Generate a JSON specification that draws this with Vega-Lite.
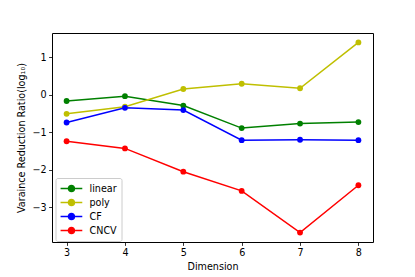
{
  "$schema": "https://vega.github.io/schema/vega-lite/v6.json",
  "width": 321,
  "height": 209,
  "autosize": "none",
  "padding": {"left": 52, "top": 33, "right": 42, "bottom": 35},
  "background": "white",
  "config": {
    "font": "DejaVu Sans",
    "view": {"stroke": "#000000", "strokeWidth": 1},
    "axis": {
      "domain": false,
      "grid": false,
      "tickColor": "#000000",
      "tickSize": 3.4,
      "tickWidth": 0.8,
      "labelFontSize": 9.6,
      "labelColor": "#000000",
      "labelPadding": 2.4,
      "titleFontSize": 9.6,
      "titleFontWeight": "normal",
      "titleColor": "#000000"
    }
  },
  "data": {
    "values": [
      {"dim": 3, "method": "linear", "v": -0.17},
      {"dim": 4, "method": "linear", "v": -0.04},
      {"dim": 5, "method": "linear", "v": -0.29},
      {"dim": 6, "method": "linear", "v": -0.89},
      {"dim": 7, "method": "linear", "v": -0.77},
      {"dim": 8, "method": "linear", "v": -0.73},
      {"dim": 3, "method": "poly", "v": -0.51},
      {"dim": 4, "method": "poly", "v": -0.32},
      {"dim": 5, "method": "poly", "v": 0.15},
      {"dim": 6, "method": "poly", "v": 0.29},
      {"dim": 7, "method": "poly", "v": 0.17},
      {"dim": 8, "method": "poly", "v": 1.39},
      {"dim": 3, "method": "CF", "v": -0.74},
      {"dim": 4, "method": "CF", "v": -0.35},
      {"dim": 5, "method": "CF", "v": -0.41},
      {"dim": 6, "method": "CF", "v": -1.21},
      {"dim": 7, "method": "CF", "v": -1.2},
      {"dim": 8, "method": "CF", "v": -1.21},
      {"dim": 3, "method": "CNCV", "v": -1.24},
      {"dim": 4, "method": "CNCV", "v": -1.43},
      {"dim": 5, "method": "CNCV", "v": -2.05},
      {"dim": 6, "method": "CNCV", "v": -2.56},
      {"dim": 7, "method": "CNCV", "v": -3.67},
      {"dim": 8, "method": "CNCV", "v": -2.41}
    ]
  },
  "mark": {"type": "line", "strokeWidth": 1.5, "point": {"size": 34, "filled": true, "opacity": 1}},
  "encoding": {
    "x": {
      "field": "dim",
      "type": "quantitative",
      "scale": {"domain": [2.75, 8.25], "nice": false, "zero": false},
      "axis": {"values": [3, 4, 5, 6, 7, 8], "title": "Dimension", "titlePadding": 4}
    },
    "y": {
      "field": "v",
      "type": "quantitative",
      "scale": {"domain": [-3.92, 1.64], "nice": false, "zero": false},
      "axis": {"values": [-3, -2, -1, 0, 1], "title": "Varaince Reduction Ratio(log₁₀)", "titlePadding": 6}
    },
    "color": {
      "field": "method",
      "type": "nominal",
      "scale": {"domain": ["linear", "poly", "CF", "CNCV"], "range": ["#008000", "#bfbf00", "#0000ff", "#ff0000"]},
      "legend": {
        "title": null,
        "orient": "none",
        "legendX": 3.5,
        "legendY": 145,
        "symbolType": "M-1,0H3M0.45,0A0.55,0.55 0 1,0 1.55,0A0.55,0.55 0 1,0 0.45,0Z",
        "symbolSize": 118,
        "symbolStrokeWidth": 1.5,
        "labelFontSize": 9.6,
        "labelColor": "#000000",
        "labelOffset": 17,
        "rowPadding": 1,
        "padding": 4,
        "fillColor": "white",
        "strokeColor": "#cccccc",
        "cornerRadius": 2
      }
    }
  }
}
